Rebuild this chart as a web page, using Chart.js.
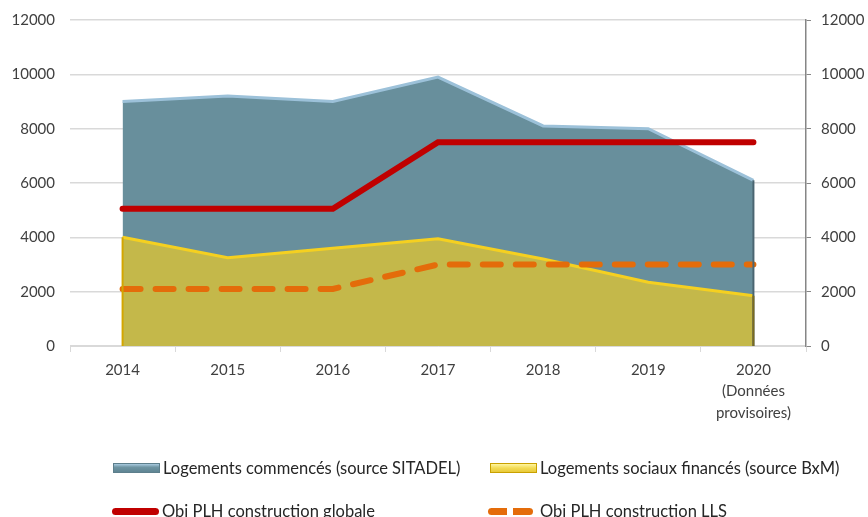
<!DOCTYPE html>
<html lang="fr">
<head>
<meta charset="utf-8">
<title>Logements commencés et financés</title>
<script src="https://cdn.jsdelivr.net/npm/chart.js@4/dist/chart.umd.min.js"></script>
<style>
  html, body { margin: 0; padding: 0; background: #fff; }
  body { width: 868px; height: 517px; position: relative; overflow: hidden; font-family: Lato, "Open Sans", sans-serif; }
  #wrap { position: absolute; left: 0; top: -4px; width: 868px; height: 444px; }
  .legend { position: absolute; left: 0; top: 0; width: 868px; height: 517px; pointer-events: none; }
  .item { position: absolute; display: flex; align-items: center; height: 20px; font-size: 16.5px; color: #262626; white-space: nowrap; }
  .sw { width: 47px; height: 10px; margin-right: 3px; box-sizing: border-box; flex: none; }
  .sw.teal { background: linear-gradient(#a9cbe0, #6f95a3 40%, #5f8593); border: 1px solid #5d7f8c; }
  .sw.gold { background: linear-gradient(#fff6a0, #f3dc55 50%, #e8c93a); border: 1.5px solid #c9a100; }
  .sw.red { height: 7px; background: #c00000; border-radius: 4px; }
  .sw.dash { height: 7px; width: 45px; margin-left: -2px; margin-right: 7px;
             background: linear-gradient(90deg, #e46c0a 0 19px, transparent 19px 25px, #e46c0a 25px 45px); border-radius: 4px; }
</style>
</head>
<body>
<div id="wrap"><canvas id="chart"></canvas></div>
<div class="legend" id="legend"></div>
<script>
// categories
const years = ['2014', '2015', '2016', '2017', '2018', '2019', ['2020', '(Données', 'provisoires)']];

// series
const logementsCommences = [9000, 9200, 9000, 9900, 8100, 8000, 6100];
const logementsSociaux = [4000, 3250, 3600, 3950, 3200, 2350, 1850];
const objGlobale = [5050, 5050, 5050, 7500, 7500, 7500, 7500];
const objLLS = [2100, 2100, 2100, 3000, 3000, 3000, 3000];

const seriesNames = [
  'Logements commencés (source SITADEL)',
  'Logements sociaux financés (source BxM)',
  'Obj PLH construction globale',
  'Obj PLH construction LLS'
];

const xFont = { family: 'Lato, "Open Sans", sans-serif', size: 15, lineHeight: 1.45 };
const yFont = { family: 'Lato, "Open Sans", sans-serif', size: 15, lineHeight: 1.2 };
const tickColor = '#404040';
const plain = (v) => String(v);

// vertical edges at the ends of the filled areas
const areaEdges = {
  id: 'areaEdges',
  afterDatasetsDraw(c) {
    const ctx = c.ctx;
    const y = c.scales.y;
    const edge = (dsIndex, i, color) => {
      const meta = c.getDatasetMeta(dsIndex);
      const pt = meta.data[i];
      ctx.save();
      ctx.strokeStyle = color;
      ctx.lineWidth = 2;
      ctx.beginPath();
      ctx.moveTo(pt.x, pt.y);
      ctx.lineTo(pt.x, y.getPixelForValue(0));
      ctx.stroke();
      ctx.restore();
    };
    edge(3, logementsCommences.length - 1, '#4a6571');
    edge(2, 0, '#d4a600');
    edge(2, logementsSociaux.length - 1, '#7a6a20');
  }
};

const chart = new Chart(document.getElementById('chart'), {
  type: 'line',
  data: {
    labels: years,
    datasets: [
      {
        label: seriesNames[2], data: objGlobale, borderColor: '#c00000', borderWidth: 6,
        pointRadius: 0, fill: false, order: 1, borderCapStyle: 'round'
      },
      {
        label: seriesNames[3], data: objLLS, borderColor: '#e46c0a', borderWidth: 6,
        borderDash: [18, 15], borderCapStyle: 'round',
        pointRadius: 0, fill: false, order: 2
      },
      {
        label: seriesNames[1], data: logementsSociaux, borderColor: '#f5d020', borderWidth: 3,
        backgroundColor: 'rgb(196,184,74)', pointRadius: 0, fill: 'origin', order: 3
      },
      {
        label: seriesNames[0], data: logementsCommences, borderColor: '#9cc1d9', borderWidth: 3,
        backgroundColor: 'rgb(104,143,156)', pointRadius: 0, fill: 'origin', order: 4
      }
    ]
  },
  options: {
    responsive: true,
    maintainAspectRatio: false,
    animation: false,
    layout: { padding: { top: 0, left: 0, right: 0, bottom: 0 } },
    plugins: { legend: { display: false }, tooltip: { enabled: false } },
    scales: {
      x: {
        offset: true,
        grid: { display: true, drawOnChartArea: false, drawTicks: true, tickLength: 6, color: '#d9d9d9', offset: true },
        border: { display: true, color: '#d9d9d9' },
        ticks: { color: tickColor, font: xFont, padding: 7, maxRotation: 0, autoSkip: false },
        afterFit: (s) => { s.height = 94; }
      },
      y: {
        position: 'left', min: 0, max: 12000,
        ticks: { stepSize: 2000, color: tickColor, font: yFont, padding: 15, callback: plain },
        grid: { color: '#d9d9d9', drawTicks: false, lineWidth: 1.5 },
        border: { display: false },
        afterFit: (s) => { s.width = 70; }
      },
      y2: {
        position: 'right', min: 0, max: 12000,
        ticks: { stepSize: 2000, color: tickColor, font: yFont, padding: 10, callback: plain },
        grid: { drawOnChartArea: false, drawTicks: true, tickLength: 5, color: '#868686' },
        border: { display: true, color: '#868686', width: 1.5 },
        afterFit: (s) => { s.width = 62; }
      }
    }
  },
  plugins: [areaEdges]
});

// legend laid out in two columns under the chart
const legendItems = [
  { cls: 'teal', text: seriesNames[0], x: 113, y: 468 },
  { cls: 'gold', text: seriesNames[1], x: 490, y: 468 },
  { cls: 'red', text: seriesNames[2], x: 112, y: 511 },
  { cls: 'dash', text: seriesNames[3], x: 490, y: 511 }
];
const legendEl = document.getElementById('legend');
legendItems.forEach((it) => {
  const div = document.createElement('div');
  div.className = 'item';
  div.style.left = it.x + 'px';
  div.style.top = (it.y - 10) + 'px';
  div.innerHTML = '<span class="sw ' + it.cls + '"></span><span></span>';
  div.lastChild.textContent = it.text;
  legendEl.appendChild(div);
});
</script>
</body>
</html>
